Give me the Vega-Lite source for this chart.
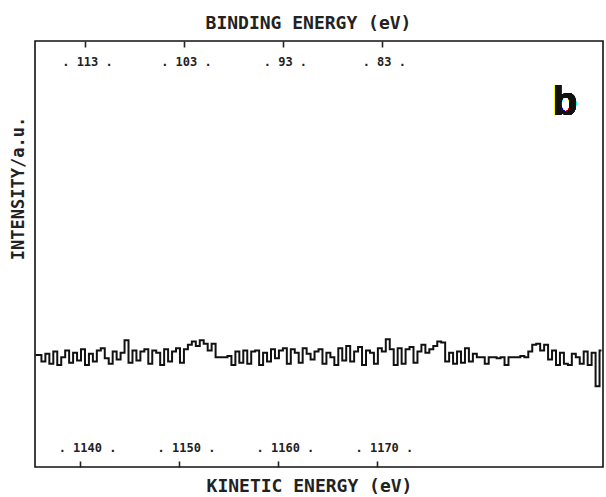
{
  "$schema": "https://vega.github.io/schema/vega-lite/v6.json",
  "width": 568,
  "height": 426,
  "autosize": {"type": "none"},
  "padding": {"left": 35, "top": 41, "right": 3, "bottom": 30},
  "background": "white",
  "config": {
    "view": {"stroke": "#111", "strokeWidth": 1.6},
    "axis": {"grid": false, "domain": false, "labelFont": "DejaVu Sans Mono", "titleFont": "DejaVu Sans Mono", "labelColor": "#222", "titleColor": "#222", "tickColor": "#222"}
  },
  "data": {"values": [
    {"ke":1135.5,"intensity":0},{"ke":1135.9,"intensity":0},{"ke":1136.3,"intensity":-0.6},{"ke":1136.7,"intensity":0.1},{"ke":1137.1,"intensity":-0.8},
    {"ke":1137.5,"intensity":0.3},{"ke":1137.9,"intensity":-0.9},{"ke":1138.3,"intensity":-0.2},{"ke":1138.7,"intensity":0.4},{"ke":1139.1,"intensity":-0.7},
    {"ke":1139.5,"intensity":0.2},{"ke":1139.9,"intensity":-0.5},{"ke":1140.3,"intensity":0.5},{"ke":1140.7,"intensity":-0.9},{"ke":1141.1,"intensity":0.1},
    {"ke":1141.5,"intensity":-0.6},{"ke":1141.9,"intensity":0.4},{"ke":1142.3,"intensity":0.6},{"ke":1142.7,"intensity":-0.3},{"ke":1143.1,"intensity":-0.8},
    {"ke":1143.5,"intensity":0.3},{"ke":1143.9,"intensity":-0.4},{"ke":1144.3,"intensity":0.2},{"ke":1144.7,"intensity":1.3},{"ke":1145.1,"intensity":-0.7},
    {"ke":1145.5,"intensity":0.4},{"ke":1145.9,"intensity":-0.5},{"ke":1146.3,"intensity":0.3},{"ke":1146.7,"intensity":0.5},{"ke":1147.1,"intensity":-0.8},
    {"ke":1147.5,"intensity":0.4},{"ke":1147.9,"intensity":0.2},{"ke":1148.3,"intensity":-0.9},{"ke":1148.7,"intensity":0.5},{"ke":1149.1,"intensity":-0.6},
    {"ke":1149.5,"intensity":0.3},{"ke":1149.9,"intensity":0.6},{"ke":1150.3,"intensity":-0.7},{"ke":1150.7,"intensity":0.5},{"ke":1151.1,"intensity":0.9},
    {"ke":1151.5,"intensity":1.2},{"ke":1151.9,"intensity":0.8},{"ke":1152.3,"intensity":1.3},{"ke":1152.7,"intensity":1.0},{"ke":1153.1,"intensity":0.4},
    {"ke":1153.5,"intensity":1.0},{"ke":1153.9,"intensity":-0.2},{"ke":1154.3,"intensity":-0.2},{"ke":1154.7,"intensity":-0.2},{"ke":1155.1,"intensity":-0.1},
    {"ke":1155.5,"intensity":-0.9},{"ke":1155.9,"intensity":0.3},{"ke":1156.3,"intensity":-0.7},{"ke":1156.7,"intensity":0.4},{"ke":1157.1,"intensity":-0.8},
    {"ke":1157.5,"intensity":0.3},{"ke":1157.9,"intensity":0.4},{"ke":1158.3,"intensity":-0.9},{"ke":1158.7,"intensity":0.2},{"ke":1159.1,"intensity":-0.6},
    {"ke":1159.5,"intensity":0.5},{"ke":1159.9,"intensity":-0.3},{"ke":1160.3,"intensity":0.4},{"ke":1160.7,"intensity":0.6},{"ke":1161.1,"intensity":-0.8},
    {"ke":1161.5,"intensity":0.5},{"ke":1161.9,"intensity":0.2},{"ke":1162.3,"intensity":-0.7},{"ke":1162.7,"intensity":0.6},{"ke":1163.1,"intensity":0.1},
    {"ke":1163.5,"intensity":-0.4},{"ke":1163.9,"intensity":0.3},{"ke":1164.3,"intensity":0.5},{"ke":1164.7,"intensity":-0.8},{"ke":1165.1,"intensity":0.2},
    {"ke":1165.5,"intensity":-0.2},{"ke":1165.9,"intensity":-0.9},{"ke":1166.3,"intensity":0.6},{"ke":1166.7,"intensity":-0.5},{"ke":1167.1,"intensity":0.8},
    {"ke":1167.5,"intensity":-0.6},{"ke":1167.9,"intensity":0.3},{"ke":1168.3,"intensity":0.7},{"ke":1168.7,"intensity":-0.9},{"ke":1169.1,"intensity":0.4},
    {"ke":1169.5,"intensity":0.2},{"ke":1169.9,"intensity":-0.8},{"ke":1170.3,"intensity":0.6},{"ke":1170.7,"intensity":0.3},{"ke":1171.1,"intensity":1.4},
    {"ke":1171.5,"intensity":0.5},{"ke":1171.9,"intensity":-0.9},{"ke":1172.3,"intensity":0.6},{"ke":1172.7,"intensity":-0.8},{"ke":1173.1,"intensity":0.5},
    {"ke":1173.5,"intensity":0.7},{"ke":1173.9,"intensity":-0.7},{"ke":1174.3,"intensity":0.3},{"ke":1174.7,"intensity":0.9},{"ke":1175.1,"intensity":0.2},
    {"ke":1175.5,"intensity":0.5},{"ke":1175.9,"intensity":0.8},{"ke":1176.3,"intensity":1.2},{"ke":1176.7,"intensity":1.1},{"ke":1177.1,"intensity":-0.6},
    {"ke":1177.5,"intensity":0.2},{"ke":1177.9,"intensity":-0.8},{"ke":1178.3,"intensity":0.3},{"ke":1178.7,"intensity":-0.7},{"ke":1179.1,"intensity":0.6},
    {"ke":1179.5,"intensity":-0.6},{"ke":1179.9,"intensity":0.1},{"ke":1180.3,"intensity":-0.2},{"ke":1180.7,"intensity":-0.2},{"ke":1181.1,"intensity":-0.8},
    {"ke":1181.5,"intensity":-0.2},{"ke":1181.9,"intensity":-0.2},{"ke":1182.3,"intensity":-0.3},{"ke":1182.7,"intensity":-0.2},{"ke":1183.1,"intensity":-0.9},
    {"ke":1183.5,"intensity":-0.2},{"ke":1183.9,"intensity":-0.2},{"ke":1184.3,"intensity":-0.2},{"ke":1184.7,"intensity":-0.1},{"ke":1185.1,"intensity":-0.2},
    {"ke":1185.5,"intensity":0.3},{"ke":1185.9,"intensity":0.9},{"ke":1186.3,"intensity":1.0},{"ke":1186.7,"intensity":0.4},{"ke":1187.1,"intensity":0.9},
    {"ke":1187.5,"intensity":-0.4},{"ke":1187.9,"intensity":0.4},{"ke":1188.3,"intensity":-0.9},{"ke":1188.7,"intensity":0.2},{"ke":1189.1,"intensity":-0.8},
    {"ke":1189.5,"intensity":-0.9},{"ke":1189.9,"intensity":0.1},{"ke":1190.3,"intensity":-0.2},{"ke":1190.7,"intensity":-0.8},{"ke":1191.1,"intensity":0.3},
    {"ke":1191.5,"intensity":-0.9},{"ke":1191.9,"intensity":0.2},{"ke":1192.3,"intensity":-2.8},{"ke":1192.7,"intensity":0.4}
  ]},
  "layer": [
    {
      "mark": {"type": "line", "interpolate": "step", "stroke": "#111", "strokeWidth": 2, "clip": true},
      "encoding": {
        "x": {
          "field": "ke", "type": "quantitative",
          "scale": {"domain": [1135.45, 1192.85], "nice": false, "zero": false},
          "axis": {
            "orient": "bottom", "values": [1140, 1150, 1160, 1170], "format": "d",
            "tickSize": -6, "tickWidth": 1.6, "labelPadding": -14, "labelBaseline": "middle", "labelOffset": 7,
            "labelFontSize": 12, "labelFontWeight": "bold", "labelExpr": "'. ' + datum.label + ' .'",
            "title": "KINETIC ENERGY (eV)", "titleFontSize": 18, "titleFontWeight": "bold",
            "titleX": 274, "titleY": 19, "titleBaseline": "middle", "titleAlign": "center"
          }
        },
        "y": {
          "field": "intensity", "type": "quantitative",
          "scale": {"domain": [-10, 28], "nice": false, "zero": false},
          "axis": {
            "orient": "left", "ticks": false, "labels": false,
            "title": "INTENSITY/a.u.", "titleX": -17, "titleY": 147, "titleAngle": -90,
            "titleBaseline": "middle", "titleAlign": "center", "titleFontSize": 17, "titleFontWeight": "bold"
          }
        }
      }
    },
    {
      "mark": {"type": "text", "text": "b", "font": "Liberation Sans", "fontWeight": "bold", "fontSize": 40, "baseline": "middle", "align": "center", "color": "#111"},
      "encoding": {
        "x": {
          "datum": 1189, "type": "quantitative",
          "axis": {
            "orient": "top", "values": [1140.5, 1150.5, 1160.5, 1170.5],
            "tickSize": -6, "tickWidth": 1.6, "labelPadding": -14, "labelBaseline": "middle", "labelOffset": 2,
            "labelFontSize": 12, "labelFontWeight": "bold",
            "labelExpr": "'. ' + format(1253.5 - datum.value, 'd') + ' .'",
            "title": "BINDING ENERGY (eV)", "titleFontSize": 18, "titleFontWeight": "bold",
            "titleX": 273, "titleY": -18, "titleBaseline": "middle", "titleAlign": "center"
          }
        },
        "y": {"datum": 22.5, "type": "quantitative"}
      }
    }
  ],
  "resolve": {"axis": {"x": "independent"}}
}
